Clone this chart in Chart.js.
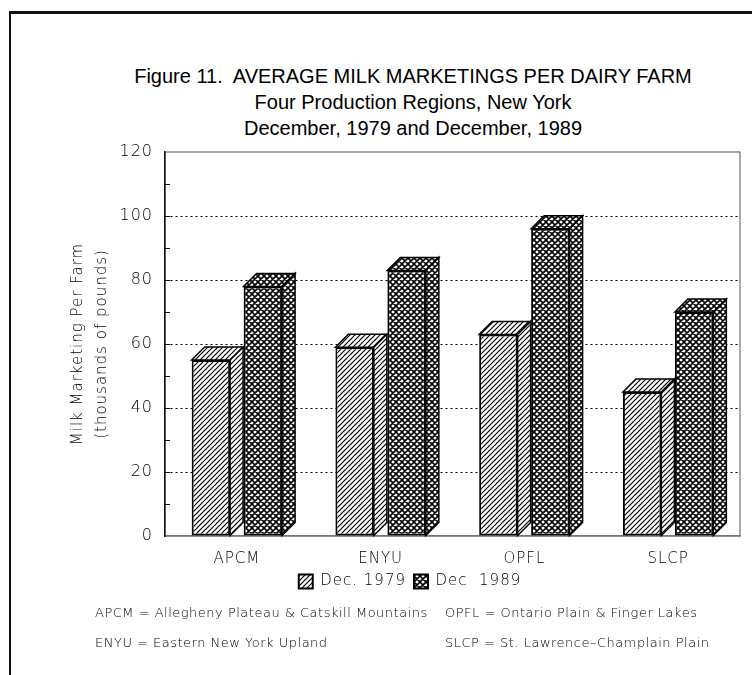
<!DOCTYPE html>
<html>
<head>
<meta charset="utf-8">
<script src="https://cdn.jsdelivr.net/npm/chart.js@4.4.1/dist/chart.umd.min.js"></script>
<style>
  body { margin: 0; background: #fff; }
  #page { position: relative; width: 752px; height: 675px; overflow: hidden; }
  #frameTop { position: absolute; left: 9px; top: 11px; width: 743px; height: 3px; background: #111; }
  #frameLeft { position: absolute; left: 9px; top: 11px; width: 2px; height: 664px; background: #111; }
  .title { position: absolute; left: 0; width: 826px; text-align: center; font-family: "Liberation Sans", Arial, sans-serif; color: #000; font-size: 20px; }
  .note { position: absolute; font-family: "DejaVu Sans", sans-serif; font-weight: 200; font-size: 13px; color: #000; letter-spacing: 0.5px; white-space: nowrap; }
  canvas { position: absolute; left: 0; top: 0; }
</style>
</head>
<body>
<div id="page">
  <div id="frameTop"></div>
  <div id="frameLeft"></div>
  <div class="title" style="top:65px">Figure 11.&nbsp; AVERAGE MILK MARKETINGS PER DAIRY FARM</div>
  <div class="title" style="top:91px">Four Production Regions, New York</div>
  <div class="title" style="top:117px">December, 1979 and December, 1989</div>
  <canvas id="myChart" width="752" height="675"></canvas>
  <div class="note" style="left:95px; top:605px">APCM = Allegheny Plateau &amp; Catskill Mountains</div>
  <div class="note" style="left:445px; top:605px">OPFL = Ontario Plain &amp; Finger Lakes</div>
  <div class="note" style="left:95px; top:635px">ENYU = Eastern New York Upland</div>
  <div class="note" style="left:445px; top:635px">SLCP = St. Lawrence&ndash;Champlain Plain</div>
</div>
<script>
// data
const regions = ['APCM', 'ENYU', 'OPFL', 'SLCP'];
const dec1979 = [55, 59, 63, 45];
const dec1989 = [78, 83, 96, 70];
const yTicks = [0, 20, 40, 60, 80, 100, 120];
const minorTicks = [10, 30, 50, 70, 90, 110];

const font = '"DejaVu Sans", sans-serif';

function hatch(size, both, lw) {
    const c = document.createElement('canvas');
    c.width = size; c.height = size;
    const g = c.getContext('2d');
    g.fillStyle = '#fff';
    g.fillRect(0, 0, size, size);
    g.strokeStyle = '#000';
    g.lineWidth = lw;
    g.beginPath();
    g.moveTo(-1, size + 1); g.lineTo(size + 1, -1);
    g.moveTo(-1, 1); g.lineTo(1, -1);
    g.moveTo(size - 1, size + 1); g.lineTo(size + 1, size - 1);
    if (both) {
        g.moveTo(-1, -1); g.lineTo(size + 1, size + 1);
        g.moveTo(size - 1, -1); g.lineTo(size + 1, 1);
        g.moveTo(-1, size - 1); g.lineTo(1, size + 1);
    }
    g.stroke();
    return g.createPattern(c, 'repeat');
}

const ctx = document.getElementById('myChart').getContext('2d');
const diag = hatch(5, false, 1.2);
const cross = hatch(6, true, 1.6);

const depth = 13;

const bars3d = {
    id: 'bars3d',
    beforeDatasetsDraw(chart) {
        const c = chart.ctx;
        chart.data.datasets.forEach((ds, i) => {
            chart.getDatasetMeta(i).data.forEach(bar => {
                const p = bar.getProps(['x', 'y', 'base', 'width']);
                const l = p.x - p.width / 2, r = p.x + p.width / 2;
                c.save();
                c.fillStyle = ds.backgroundColor;
                c.strokeStyle = '#000';
                c.lineWidth = 1.5;
                c.beginPath();
                c.moveTo(l, p.y); c.lineTo(l + depth, p.y - depth);
                c.lineTo(r + depth, p.y - depth); c.lineTo(r, p.y);
                c.closePath(); c.fill(); c.stroke();
                c.beginPath();
                c.moveTo(r, p.y); c.lineTo(r + depth, p.y - depth);
                c.lineTo(r + depth, p.base - depth); c.lineTo(r, p.base);
                c.closePath(); c.fill(); c.stroke();
                c.restore();
            });
        });
    },
    beforeDraw(chart) {
        const a = chart.chartArea, c = chart.ctx;
        const y = chart.scales.y;
        c.letterSpacing = '1px';
        c.save();
        c.strokeStyle = '#555';
        c.lineWidth = 1;
        c.strokeRect(a.left, a.top, a.right - a.left, a.bottom - a.top);
        c.strokeStyle = '#000';
        c.lineWidth = 1.2;
        c.beginPath();
        yTicks.concat(minorTicks).forEach(v => {
            if (v === 0 || v === 120) return;
            const py = Math.round(y.getPixelForValue(v)) + 0.5;
            c.moveTo(a.left, py); c.lineTo(a.left + 5, py);
        });
        c.stroke();
        c.restore();
    }
};

const myChart = new Chart(ctx, {
    type: 'bar',
    data: {
        labels: regions,
        datasets: [{
            label: 'Dec. 1979',
            data: dec1979,
            backgroundColor: diag,
            borderColor: '#000',
            borderWidth: 2,
            borderSkipped: false,
            barPercentage: 0.74,
            categoryPercentage: 0.723
        }, {
            label: 'Dec  1989',
            data: dec1989,
            backgroundColor: cross,
            borderColor: '#000',
            borderWidth: 2,
            borderSkipped: false,
            barPercentage: 0.74,
            categoryPercentage: 0.723
        }]
    },
    options: {
        responsive: false,
        animation: false,
        layout: { padding: { left: 62, right: 12, top: 152, bottom: 76 } },
        plugins: {
            legend: {
                position: 'bottom',
                labels: {
                    boxWidth: 14,
                    boxHeight: 14,
                    padding: 8,
                    color: '#000',
                    font: { family: font, size: 15, weight: '200' }
                }
            },
            tooltip: { enabled: false }
        },
        scales: {
            x: {
                grid: { display: false },
                border: { color: '#777', width: 1.5 },
                ticks: { color: '#000', padding: 6, font: { family: font, size: 15, weight: '200' } },
                afterFit: s => { s.height = 30; }
            },
            y: {
                min: 0,
                max: 120,
                afterFit: s => { s.width = 103; },
                border: { color: '#111', width: 1.5, dash: [2, 3] },
                grid: {
                    drawTicks: false,
                    lineWidth: 1,
                    color: c => (c.tick && c.tick.value > 0 && c.tick.value < 120) ? '#000' : 'rgba(0,0,0,0)'
                },
                ticks: {
                    stepSize: 20,
                    padding: 12,
                    color: '#000',
                    font: { family: font, size: 16, weight: '200' }
                },
                title: {
                    display: true,
                    text: ['Milk Marketing Per Farm', '(thousands of pounds)'],
                    color: '#000',
                    padding: { top: 4, bottom: 0 },
                    font: { family: font, size: 15, weight: '200', lineHeight: 1.6 }
                }
            }
        }
    },
    plugins: [bars3d]
});
</script>
</body>
</html>
